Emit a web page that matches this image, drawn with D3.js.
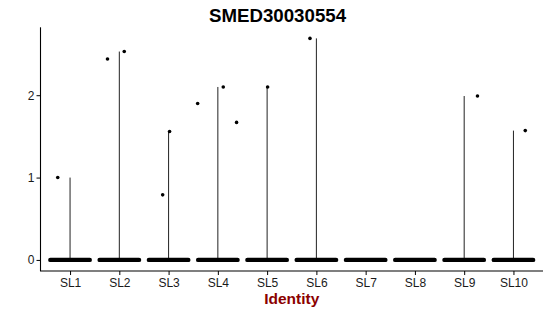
<!DOCTYPE html>
<html>
<head>
<meta charset="utf-8">
<script src="https://cdn.jsdelivr.net/npm/d3@7"></script>
<style>
  body { margin: 0; background: #fff; }
  svg { display: block; font-family: "Liberation Sans", Arial, sans-serif; }
</style>
</head>
<body>
<svg id="chart" width="550" height="316"></svg>
<script>
// ---- data ----
const title = "SMED30030554";
const xTitle = "Identity";
const categories = ["SL1","SL2","SL3","SL4","SL5","SL6","SL7","SL8","SL9","SL10"];
// non-zero expression points: category, jittered x offset (in category units), value
const pointCats    = ["SL1","SL2","SL2","SL3","SL3","SL4","SL4","SL4","SL5","SL6","SL9","SL10"];
const pointOffsets = [-0.25, -0.24, 0.10, -0.12, 0.02, -0.41, 0.11, 0.38, 0.01, -0.13, 0.27, 0.24];
const pointValues  = [1.00, 2.44, 2.53, 0.79, 1.56, 1.90, 2.10, 1.67, 2.10, 2.69, 1.99, 1.57];
// every category also has many cells at exactly 0
const zeroValue = 0;
const yTicks = [0, 1, 2];

// ---- layout ----
const svg = d3.select("#chart");
const margin = { left: 40.5, right: 7, top: 27.3, bottom: 45 };
const W = 550, H = 316;
const plotL = margin.left, plotR = W - margin.right;

const yMax = d3.max(pointValues);
const pad = yMax * 0.05;
const y = d3.scaleLinear().domain([0 - pad, yMax + pad]).range([271, 27.3]);

const xBand = d3.scalePoint().domain(categories).range([0, categories.length - 1]);
const xLin = d3.scaleLinear().domain([-0.6, categories.length - 1 + 0.6]).range([plotL, plotR]);
const xc = c => xLin(xBand(c));

// title
svg.append("text")
  .attr("x", 277.5).attr("y", 21.7)
  .attr("text-anchor", "middle")
  .attr("font-weight", "bold").attr("font-size", "18.7px")
  .attr("fill", "#000")
  .text(title);

const g = svg.append("g");

// violins (collapsed to a line from 0 to max since density is concentrated at 0)
const vmax = categories.map(c => {
  const vals = pointValues.filter((v, i) => pointCats[i] === c);
  return { c, max: vals.length ? d3.max(vals) : zeroValue };
});
g.selectAll("line.violin").data(vmax.filter(d => d.max > 0)).join("line")
  .attr("class", "violin")
  .attr("x1", d => xc(d.c)).attr("x2", d => xc(d.c))
  .attr("y1", y(zeroValue)).attr("y2", d => y(d.max))
  .attr("stroke", "#222").attr("stroke-width", 1);

// dense band of zero-valued jittered points
g.selectAll("line.zero").data(categories).join("line")
  .attr("class", "zero")
  .attr("x1", c => xLin(xBand(c) - 0.4)).attr("x2", c => xLin(xBand(c) + 0.4))
  .attr("y1", y(zeroValue)).attr("y2", y(zeroValue))
  .attr("stroke", "#000").attr("stroke-width", 4.4).attr("stroke-linecap", "round");

// non-zero points
g.selectAll("circle.pt").data(pointValues).join("circle")
  .attr("class", "pt")
  .attr("cx", (v, i) => xLin(xBand(pointCats[i]) + pointOffsets[i]))
  .attr("cy", v => y(v))
  .attr("r", 1.8)
  .attr("fill", "#000");

// axes
const yAxis = d3.axisLeft(y).tickValues(yTicks).tickSize(4).tickPadding(2).tickFormat(d3.format("d"));
const yg = svg.append("g").attr("transform", `translate(${plotL},0)`).call(yAxis);
yg.select(".domain").remove();
yg.append("line").attr("x1", 0).attr("x2", 0).attr("y1", 27.3).attr("y2", 271)
  .attr("stroke", "#000").attr("stroke-width", 1.1);
yg.selectAll(".tick line").attr("stroke", "#000");
yg.selectAll(".tick text").attr("font-size", "12px").attr("fill", "#1a1a1a")
  .attr("font-family", "Liberation Sans, Arial, sans-serif");

const xAxis = d3.axisBottom(xLin).tickValues(categories.map(c => xBand(c)))
  .tickFormat((d, i) => categories[i]).tickSize(4).tickPadding(3);
const xg = svg.append("g").attr("transform", `translate(0,271)`).call(xAxis);
xg.select(".domain").remove();
xg.append("line").attr("x1", plotL - 0.5).attr("x2", plotR).attr("y1", 0).attr("y2", 0)
  .attr("stroke", "#000").attr("stroke-width", 1.1);
xg.selectAll(".tick line").attr("stroke", "#000");
xg.selectAll(".tick text").attr("font-size", "12px").attr("fill", "#1a1a1a")
  .attr("font-family", "Liberation Sans, Arial, sans-serif");

// x title
svg.append("text")
  .attr("x", (plotL + plotR) / 2).attr("y", 304)
  .attr("text-anchor", "middle")
  .attr("font-weight", "bold").attr("font-size", "15.5px")
  .attr("fill", "#8B0000")
  .text(xTitle);
</script>
</body>
</html>
